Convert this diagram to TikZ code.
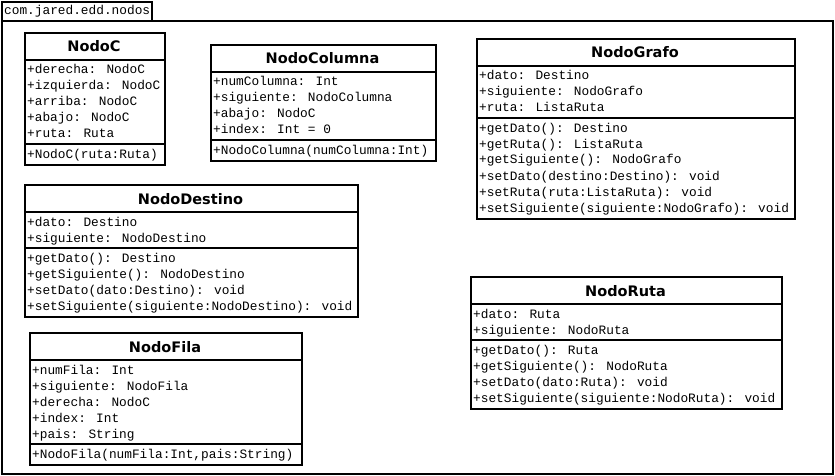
\documentclass[tikz,border=0pt]{standalone}
\usepackage{fontspec}
\newfontfamily\monof{Liberation Mono}
\newfontfamily\titlef{DejaVu Sans}
\tikzset{
  framebox/.style={draw, line width=1.6pt, anchor=north west, inner sep=0pt},
  classbox/.style={draw, line width=1.6pt, fill=white, anchor=north west, inner sep=0pt},
  rowtext/.style={font=\monof\fontsize{12.8}{16}\selectfont, inner sep=0pt, anchor=base west},
  titletext/.style={font=\titlef\bfseries\fontsize{14.5}{16}\selectfont, inner sep=0pt, anchor=base},
  rulelinestyle/.style={line width=1.6pt},
}
\newcommand\umlclass[9]{%
  \pgfmathsetmacro\ya{#3+28}%
  \pgfmathsetmacro\yb{\ya+#6*16+4}%
  \pgfmathsetmacro\yc{\yb+#8*16+4}%
  \pgfmathsetmacro\bw{#4-#2}%
  \pgfmathsetmacro\bh{\yc-#3}%
  \node[classbox, minimum width=\bw pt, minimum height=\bh pt] (#1) at (#2,#3) {};
  \node[titletext] (#1-t) at ({(#2+#4)/2}, #3+20) {#5};
  \draw[rulelinestyle] (#1.west |- 0,\ya) -- (#1.east |- 0,\ya);
  \draw[rulelinestyle] (#1.west |- 0,\yb) -- (#1.east |- 0,\yb);
  \foreach \t [count=\i from 0] in {#7} {\node[rowtext] (#1-a\i) at (#2+3, \ya+14+16*\i) {\t};}
  \foreach \t [count=\i from 0] in {#9} {\node[rowtext] (#1-m\i) at (#2+3, \yb+14+16*\i) {\t};}
}
\begin{document}
\begin{tikzpicture}[x=1pt, y=-1pt]
\useasboundingbox (0,0) rectangle (835,476);
\fill[white] (0,0) rectangle (835,476);
\node[framebox, minimum width=150pt, minimum height=19pt] (pkgtab) at (1,1) {};
\node[rowtext] (pkglabel) at (4,15) {com.jared.edd.nodos};
\node[framebox, minimum width=831pt, minimum height=453pt] (pkg) at (1,20) {};

\umlclass{nodoc}{24}{32}{164}{NodoC}{5}{+derecha: NodoC, +izquierda: NodoC, +arriba: NodoC, +abajo: NodoC, +ruta: Ruta}{1}{+NodoC(ruta:Ruta)}

\umlclass{nodocol}{210}{44}{435}{NodoColumna}{4}{+numColumna: Int, +siguiente: NodoColumna, +abajo: NodoC, +index: Int = 0}{1}{+NodoColumna(numColumna:Int)}

\umlclass{nodografo}{476}{38}{794}{NodoGrafo}{3}{+dato: Destino, +siguiente: NodoGrafo, +ruta: ListaRuta}{6}{+getDato(): Destino, +getRuta(): ListaRuta, +getSiguiente(): NodoGrafo, +setDato(destino:Destino): void, +setRuta(ruta:ListaRuta): void, +setSiguiente(siguiente:NodoGrafo): void}

\umlclass{nododest}{24}{184}{357}{NodoDestino}{2}{+dato: Destino, +siguiente: NodoDestino}{4}{+getDato(): Destino, +getSiguiente(): NodoDestino, +setDato(dato:Destino): void, +setSiguiente(siguiente:NodoDestino): void}

\umlclass{nodofila}{29}{332}{301}{NodoFila}{5}{+numFila: Int, +siguiente: NodoFila, +derecha: NodoC, +index: Int, +pais: String}{1}{{+NodoFila(numFila:Int,pais:String)}}

\umlclass{nodoruta}{470}{276}{781}{NodoRuta}{2}{+dato: Ruta, +siguiente: NodoRuta}{4}{+getDato(): Ruta, +getSiguiente(): NodoRuta, +setDato(dato:Ruta): void, +setSiguiente(siguiente:NodoRuta): void}
\end{tikzpicture}
\end{document}
